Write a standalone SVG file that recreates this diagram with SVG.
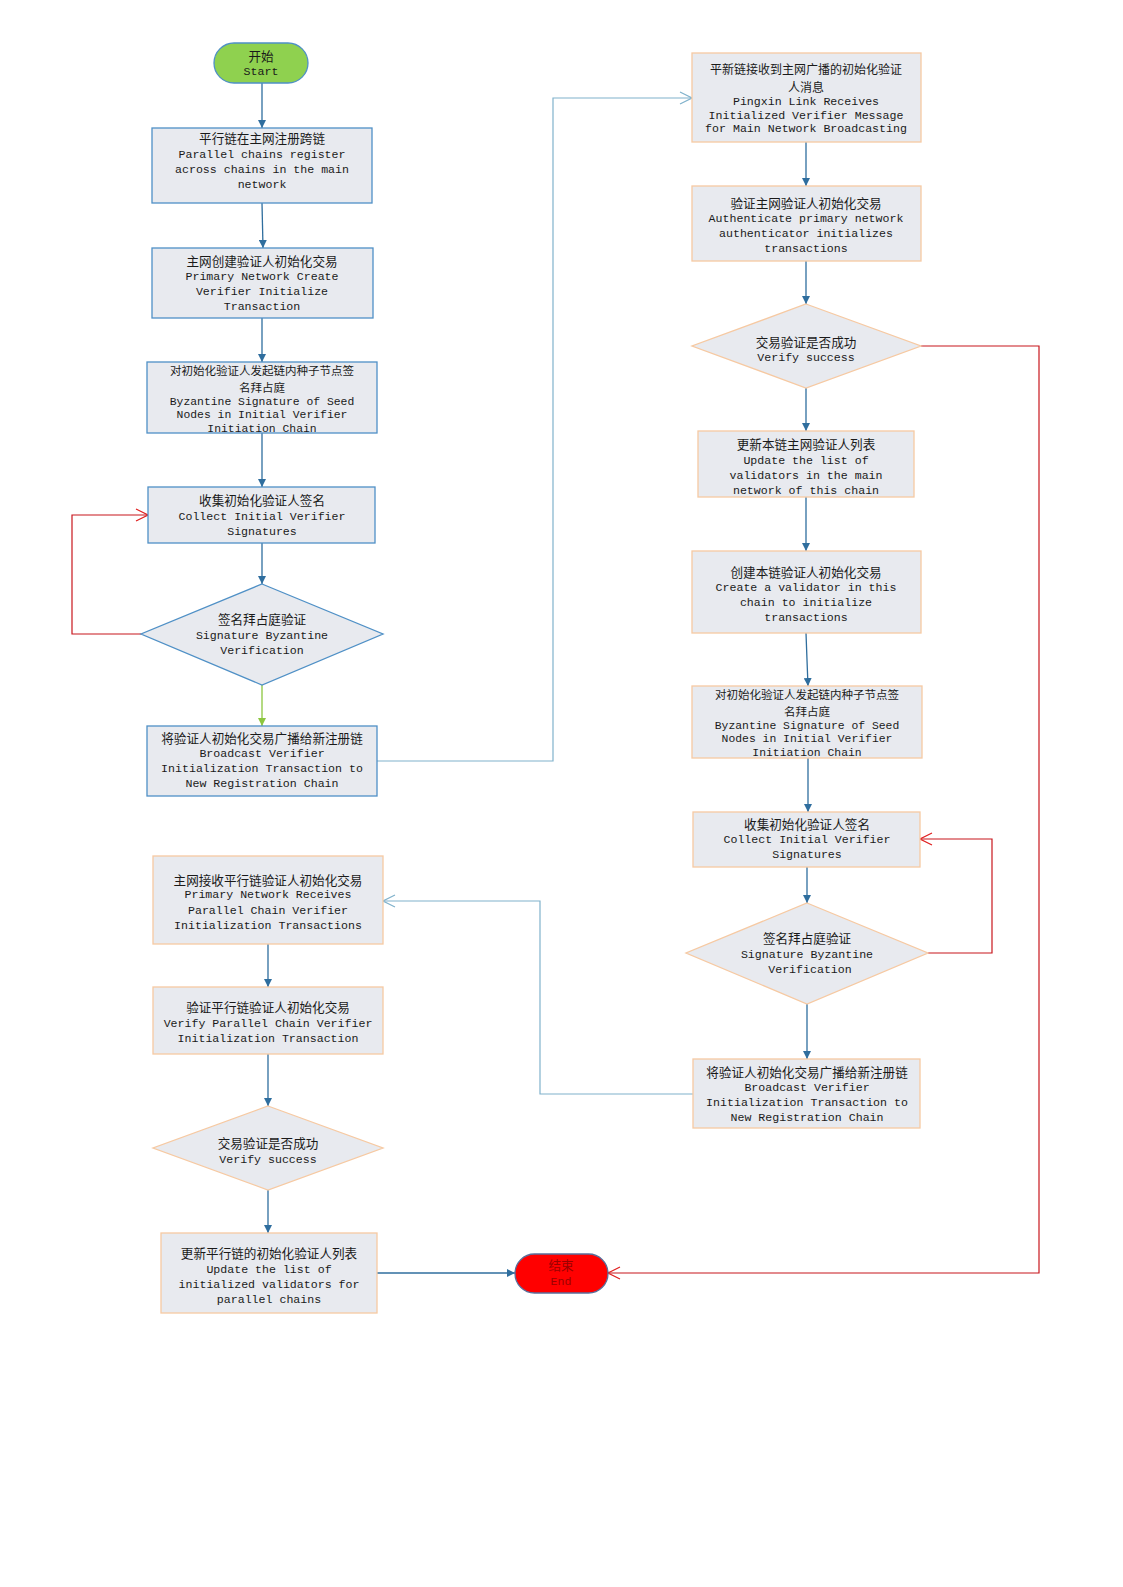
<svg xmlns="http://www.w3.org/2000/svg" width="1123" height="1587" viewBox="0 0 1123 1587">
<style>
.box{fill:#e8eaef;stroke-width:1.3}
.bb{stroke:#4f90c6}
.pb{stroke:#f6c9a2}
.t{font-family:"Liberation Mono","Noto Sans CJK SC",monospace;font-size:11.6px;fill:#1a1a1a;text-anchor:middle}
.c{font-family:"Noto Sans CJK SC","Liberation Mono",sans-serif;font-size:12.6px;fill:#1a1a1a;text-anchor:middle}
.c2{font-size:11.5px}
.t2{font-size:11.4px}
.ln{fill:none;stroke:#2f6e9e;stroke-width:1.3}
.lb{fill:none;stroke:#80b2cc;stroke-width:1.2}
.lr{fill:none;stroke:#c8161d;stroke-width:1.2}
.lg{fill:none;stroke:#8cc63f;stroke-width:1.3}
</style>
<defs>
<marker id="a" markerUnits="userSpaceOnUse" markerWidth="8" markerHeight="8" refX="8" refY="4" orient="auto"><path d="M0,0 L8,4 L0,8 z" fill="#2f6e9e"/></marker>
<marker id="ag" markerUnits="userSpaceOnUse" markerWidth="8" markerHeight="8" refX="8" refY="4" orient="auto"><path d="M0,0 L8,4 L0,8 z" fill="#8cc63f"/></marker>
<marker id="ob" markerUnits="userSpaceOnUse" markerWidth="14" markerHeight="14" refX="13" refY="7" orient="auto"><path d="M1,1 L13,7 L1,13" fill="none" stroke="#80b2cc" stroke-width="1.2"/></marker>
<marker id="or" markerUnits="userSpaceOnUse" markerWidth="14" markerHeight="14" refX="13" refY="7" orient="auto"><path d="M1,1 L13,7 L1,13" fill="none" stroke="#e02020" stroke-width="1.2"/></marker>
</defs>
<rect width="1123" height="1587" fill="#ffffff"/>
<g id="connectors">
<path class="ln" d="M262,83 V128" marker-end="url(#a)"/>
<path class="ln" d="M262,203 L263,248" marker-end="url(#a)"/>
<path class="ln" d="M262,318 V362" marker-end="url(#a)"/>
<path class="ln" d="M262,433 V487" marker-end="url(#a)"/>
<path class="ln" d="M262,543 V584" marker-end="url(#a)"/>
<path class="lg" d="M262,685 V726" marker-end="url(#ag)"/>
<path class="lr" d="M141,634 H72 V515 H148" marker-end="url(#or)"/>
<path class="lb" d="M377,761 H553 V98 H692" marker-end="url(#ob)"/>
<path class="ln" d="M806,142 V186" marker-end="url(#a)"/>
<path class="ln" d="M806,261 V304" marker-end="url(#a)"/>
<path class="ln" d="M806,388 V431" marker-end="url(#a)"/>
<path class="ln" d="M806,497 V551" marker-end="url(#a)"/>
<path class="ln" d="M806,633 L807,660 L808,686" marker-end="url(#a)"/>
<path class="ln" d="M808,758 V812" marker-end="url(#a)"/>
<path class="ln" d="M807,867 V903" marker-end="url(#a)"/>
<path class="ln" d="M807,1004 V1059" marker-end="url(#a)"/>
<path class="lr" d="M928,953 H992 V839 H920" marker-end="url(#or)"/>
<path class="lb" d="M693,1094 H540 V901 H383" marker-end="url(#ob)"/>
<path class="ln" d="M268,944 V987" marker-end="url(#a)"/>
<path class="ln" d="M268,1054 V1106" marker-end="url(#a)"/>
<path class="ln" d="M268,1190 V1233" marker-end="url(#a)"/>
<path class="ln" d="M377,1273 H515" marker-end="url(#a)"/>
<path class="lr" d="M921,346 H1039 V1273 H608" marker-end="url(#or)"/>
</g>
<g id="start">
<rect x="214" y="43" width="94" height="40" rx="20" fill="#8fd14f" stroke="#4f90c6" stroke-width="1.3"/>
<text class="c" x="261" y="60.5">开始</text>
<text class="t" x="261" y="75">Start</text>
</g>
<g id="n1">
<rect class="box bb" x="152" y="128" width="220" height="75"/>
<text class="c" x="262" y="142.5">平行链在主网注册跨链</text>
<text class="t" x="262" y="158">Parallel chains register</text>
<text class="t" x="262" y="173">across chains in the main</text>
<text class="t" x="262" y="188">network</text>
</g>
<g id="n2">
<rect class="box bb" x="152" y="248" width="221" height="70"/>
<text class="c" x="262" y="265.5">主网创建验证人初始化交易</text>
<text class="t" x="262" y="280">Primary Network Create</text>
<text class="t" x="262" y="295">Verifier Initialize</text>
<text class="t" x="262" y="310">Transaction</text>
</g>
<g id="n3">
<rect class="box bb" x="147" y="362" width="230" height="71"/>
<text class="c c2" x="262" y="375.3">对初始化验证人发起链内种子节点签</text>
<text class="c c2" x="262" y="392">名拜占庭</text>
<text class="t t2" x="262" y="405.2">Byzantine Signature of Seed</text>
<text class="t t2" x="262" y="418.4">Nodes in Initial Verifier</text>
<text class="t t2" x="262" y="431.6">Initiation Chain</text>
</g>
<g id="n4">
<rect class="box bb" x="148" y="487" width="227" height="56"/>
<text class="c" x="262" y="504.5">收集初始化验证人签名</text>
<text class="t" x="262" y="520">Collect Initial Verifier</text>
<text class="t" x="262" y="535">Signatures</text>
</g>
<g id="d1">
<polygon class="box bb" points="262,584 383,634 262,685 141,634"/>
<text class="c" x="262" y="623.5">签名拜占庭验证</text>
<text class="t" x="262" y="639">Signature Byzantine</text>
<text class="t" x="262" y="654">Verification</text>
</g>
<g id="n5">
<rect class="box bb" x="147" y="726" width="230" height="70"/>
<text class="c" x="262" y="742.5">将验证人初始化交易广播给新注册链</text>
<text class="t" x="262" y="757">Broadcast Verifier</text>
<text class="t" x="262" y="772">Initialization Transaction to</text>
<text class="t" x="262" y="787">New Registration Chain</text>
</g>
<g id="r1">
<rect class="box pb" x="692" y="53" width="229" height="89"/>
<text class="c" x="806" y="74" style="font-size:12px">平新链接收到主网广播的初始化验证</text>
<text class="c" x="806" y="91.5" style="font-size:12px">人消息</text>
<text class="t" x="806" y="105">Pingxin Link Receives</text>
<text class="t" x="806" y="118.7">Initialized Verifier Message</text>
<text class="t" x="806" y="132.4">for Main Network Broadcasting</text>
</g>
<g id="r2">
<rect class="box pb" x="692" y="186" width="229" height="75"/>
<text class="c" x="806" y="207.5">验证主网验证人初始化交易</text>
<text class="t" x="806" y="222">Authenticate primary network</text>
<text class="t" x="806" y="237">authenticator initializes</text>
<text class="t" x="806" y="252">transactions</text>
</g>
<g id="rd1">
<polygon class="box pb" points="806,304 921,346 806,388 692,346"/>
<text class="c" x="806" y="346.5">交易验证是否成功</text>
<text class="t" x="806" y="361">Verify success</text>
</g>
<g id="r3">
<rect class="box pb" x="698" y="431" width="216" height="66"/>
<text class="c" x="806" y="448.5">更新本链主网验证人列表</text>
<text class="t" x="806" y="464">Update the list of</text>
<text class="t" x="806" y="479">validators in the main</text>
<text class="t" x="806" y="494">network of this chain</text>
</g>
<g id="r4">
<rect class="box pb" x="692" y="551" width="229" height="82"/>
<text class="c" x="806" y="576.5">创建本链验证人初始化交易</text>
<text class="t" x="806" y="591">Create a validator in this</text>
<text class="t" x="806" y="606">chain to initialize</text>
<text class="t" x="806" y="621">transactions</text>
</g>
<g id="r5">
<rect class="box pb" x="692" y="686" width="230" height="72"/>
<text class="c c2" x="807" y="699.3">对初始化验证人发起链内种子节点签</text>
<text class="c c2" x="807" y="716">名拜占庭</text>
<text class="t t2" x="807" y="729.2">Byzantine Signature of Seed</text>
<text class="t t2" x="807" y="742.4">Nodes in Initial Verifier</text>
<text class="t t2" x="807" y="755.6">Initiation Chain</text>
</g>
<g id="r6">
<rect class="box pb" x="693" y="812" width="227" height="55"/>
<text class="c" x="807" y="828.5">收集初始化验证人签名</text>
<text class="t" x="807" y="843">Collect Initial Verifier</text>
<text class="t" x="807" y="858">Signatures</text>
</g>
<g id="rd2">
<polygon class="box pb" points="807,903 928,953 807,1004 686,953"/>
<text class="c" x="807" y="942.5">签名拜占庭验证</text>
<text class="t" x="807" y="958">Signature Byzantine</text>
<text class="t" x="810" y="973">Verification</text>
</g>
<g id="r7">
<rect class="box pb" x="693" y="1059" width="227" height="69"/>
<text class="c" x="807" y="1076.5">将验证人初始化交易广播给新注册链</text>
<text class="t" x="807" y="1091">Broadcast Verifier</text>
<text class="t" x="807" y="1106">Initialization Transaction to</text>
<text class="t" x="807" y="1121">New Registration Chain</text>
</g>
<g id="l1">
<rect class="box pb" x="153" y="856" width="230" height="88"/>
<text class="c" x="268" y="884.5">主网接收平行链验证人初始化交易</text>
<text class="t" x="268" y="898">Primary Network Receives</text>
<text class="t" x="268" y="914">Parallel Chain Verifier</text>
<text class="t" x="268" y="929">Initialization Transactions</text>
</g>
<g id="l2">
<rect class="box pb" x="153" y="987" width="230" height="67"/>
<text class="c" x="268" y="1011.5">验证平行链验证人初始化交易</text>
<text class="t" x="268" y="1027">Verify Parallel Chain Verifier</text>
<text class="t" x="268" y="1042">Initialization Transaction</text>
</g>
<g id="ld">
<polygon class="box pb" points="268,1106 383,1148 268,1190 153,1148"/>
<text class="c" x="268" y="1147.5">交易验证是否成功</text>
<text class="t" x="268" y="1163">Verify success</text>
</g>
<g id="l4">
<rect class="box pb" x="161" y="1233" width="216" height="80"/>
<text class="c" x="269" y="1257.5">更新平行链的初始化验证人列表</text>
<text class="t" x="269" y="1273">Update the list of</text>
<text class="t" x="269" y="1288">initialized validators for</text>
<text class="t" x="269" y="1303">parallel chains</text>
</g>
<g id="end">
<rect x="515" y="1254" width="93" height="39" rx="19.5" fill="#ff0000" stroke="#5a6e9a" stroke-width="1.3"/>
<text class="c" x="561" y="1269.5" style="fill:#9a0000">结束</text>
<text class="t" x="561" y="1285" style="fill:#9a0000">End</text>
</g>
</svg>
